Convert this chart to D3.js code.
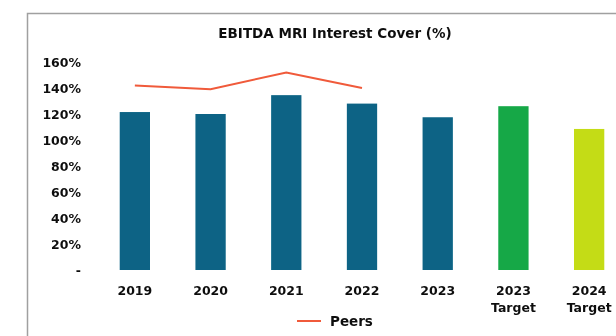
<!DOCTYPE html>
<html>
<head>
<meta charset="utf-8">
<script src="https://cdn.jsdelivr.net/npm/d3@7"></script>
<style>
  html, body { margin: 0; padding: 0; background: #fff; }
  svg { display: block; }
  text { font-family: "DejaVu Sans", sans-serif; font-weight: bold; fill: #111; }
</style>
</head>
<body>
<svg id="chart" width="616" height="336"></svg>
<script>
// Categories (second line of each label after the newline)
const categories = ["2019", "2020", "2021", "2022", "2023", "2023\nTarget", "2024\nTarget"];
// EBITDA MRI interest cover, %
const coverValues = [121.5, 120, 134.5, 128, 117.5, 126, 108.5];
// Peer average, % (available 2019–2022)
const peerCategories = ["2019", "2020", "2021", "2022"];
const peerValues = [142, 139, 152, 140];
// Bar fill per category
const barColors = ["#0a6485", "#0a6485", "#0a6485", "#0a6485", "#0a6485", "#14a847", "#c4dc14"];
const yTicks = [0, 20, 40, 60, 80, 100, 120, 140, 160];

const svg = d3.select("#chart");

// soft focus applied to the chart group
const defs = svg.append("defs");
defs.append("filter").attr("id", "soft")
  .append("feGaussianBlur").attr("stdDeviation", 0.45);

const g = svg.append("g").attr("filter", "url(#soft)");

// outer frame
g.append("rect")
  .attr("x", 27.5).attr("y", 13.5)
  .attr("width", 640).attr("height", 360)
  .attr("fill", "#fff")
  .attr("stroke", "#a0a0a0").attr("stroke-width", 1.5);

const x = d3.scaleBand()
  .domain(categories)
  .range([97, 627])
  .paddingInner(0.6)
  .paddingOuter(0.3);

const y = d3.scaleLinear().domain([0, 160]).range([270, 62]);

// title
g.append("text")
  .attr("x", 335).attr("y", 37.5)
  .attr("text-anchor", "middle")
  .style("font-size", "13.5px")
  .text("EBITDA MRI Interest Cover (%)");

// y axis (labels only)
const yAxis = d3.axisLeft(y)
  .tickValues(yTicks)
  .tickSize(0)
  .tickPadding(0)
  .tickFormat(d => d === 0 ? "-" : d + "%");
const yg = g.append("g").attr("transform", "translate(81,0)").call(yAxis);
yg.select(".domain").remove();
yg.selectAll("text")
  .attr("dy", "0.35em")
  .style("font-size", "12.5px")
  .style("font-family", "'DejaVu Sans', sans-serif")
  .attr("fill", "#111");

// bars
g.append("g").selectAll("rect")
  .data(categories)
  .join("rect")
  .attr("x", d => x(d))
  .attr("width", x.bandwidth())
  .attr("y", (d, i) => y(coverValues[i]))
  .attr("height", (d, i) => y(0) - y(coverValues[i]))
  .attr("fill", (d, i) => barColors[i]);

// x axis labels
const xAxis = d3.axisBottom(x).tickSize(0).tickPadding(0).tickFormat("");
const xg = g.append("g").attr("transform", "translate(0,270)").call(xAxis);
xg.select(".domain").remove();
xg.selectAll(".tick").each(function(d) {
  const t = d3.select(this).append("text")
    .attr("text-anchor", "middle")
    .attr("fill", "#111")
    .style("font-size", "12.5px");
  d.split("\n").forEach((line, k) => {
    t.append("tspan").attr("x", 0).attr("y", 25 + k * 16.5).text(line);
  });
});

// peers line through bar centres
const line = d3.line()
  .x(d => x(d[0]) + x.bandwidth() / 2)
  .y(d => y(d[1]));
g.append("path")
  .datum(peerCategories.map((c, i) => [c, peerValues[i]]))
  .attr("d", line)
  .attr("fill", "none")
  .attr("stroke", "#f05a3a")
  .attr("stroke-width", 2);

// legend
const lg = g.append("g").attr("transform", "translate(297,321)");
lg.append("line").attr("x1", 0).attr("x2", 24).attr("y1", 0).attr("y2", 0)
  .attr("stroke", "#f05a3a").attr("stroke-width", 2);
lg.append("text").attr("x", 33).attr("y", 0).attr("dy", "0.35em")
  .style("font-size", "13.5px").text("Peers");
</script>
</body>
</html>
